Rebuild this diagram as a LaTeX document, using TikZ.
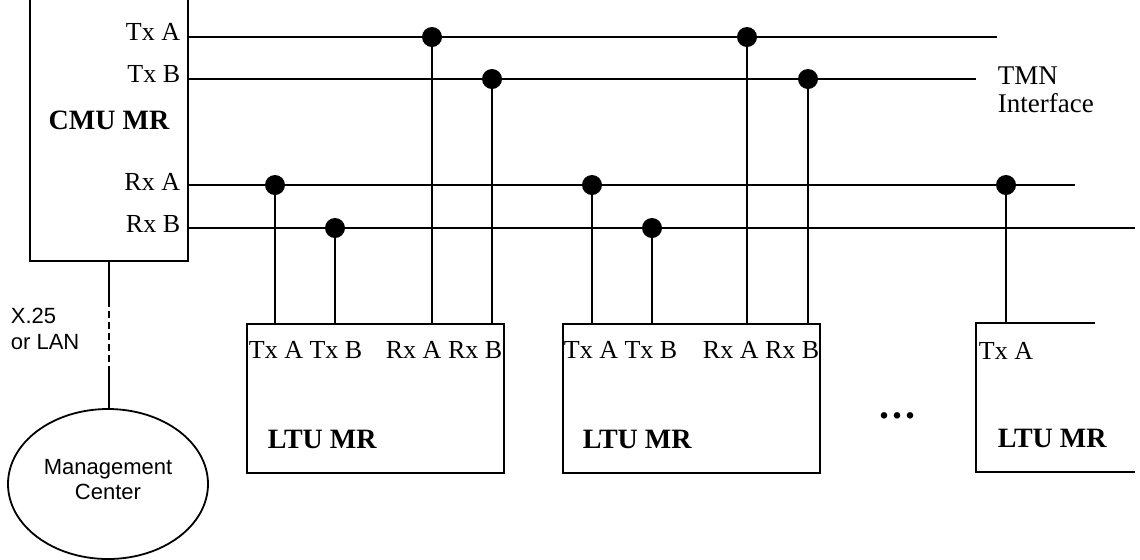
\documentclass[tikz,border=0pt]{standalone}
\usepackage{fontspec}
\setmainfont{Liberation Serif}
\setsansfont{Liberation Sans}
\usetikzlibrary{shapes}

\begin{document}
\begin{tikzpicture}[
    x=0.5pt, y=-0.5pt, line width=0.9pt,
    unit/.style={shape=rectangle, draw=black, anchor=north west, inner sep=0pt},
    ltu/.style={unit, minimum width=128.5pt, minimum height=74.5pt},
    tap/.style={shape=circle, fill=black, inner sep=0pt, minimum size=10pt},
    port/.style={inner sep=0pt, font=\fontsize{13}{15}\selectfont},
    title/.style={inner sep=0pt, font=\bfseries\fontsize{14}{16}\selectfont},
    note/.style={inner sep=0pt, align=left, font=\sffamily\fontsize{11}{13}\selectfont},
    mgmt/.style={shape=ellipse, draw=black, minimum width=100pt, minimum height=75pt, inner sep=0pt, text depth=5pt, align=center, font=\sffamily\fontsize{11}{12.5}\selectfont},
]
\useasboundingbox (0,0) rectangle (1140,559);

% units
\node[unit, minimum width=79pt, minimum height=132.5pt] (cmu) at (29,-5) {};
\node[ltu] (ltu1) at (246,323) {};
\node[ltu] (ltu2) at (562,323) {};
\coordinate (ltu3tr) at (1095,323);
\coordinate (ltu3tl) at (976,323);
\coordinate (ltu3bl) at (976,472);
\coordinate (ltu3br) at (1135,472);
\draw (ltu3tr) -- (ltu3tl) -- (ltu3bl) -- (ltu3br);
\node[mgmt] (mc) at (108,484) {Management\\Center};

% CMU texts
\node[port, anchor=base east] (cmutxa) at (181,40) {Tx A};
\node[port, anchor=base east] (cmutxb) at (181,82) {Tx B};
\node[port, anchor=base east] (cmurxa) at (181,190) {Rx A};
\node[port, anchor=base east] (cmurxb) at (181,232) {Rx B};
\node[title, anchor=base] (cmuname) at (109,129) {CMU MR};

% LTU texts
\node[port, anchor=base west] (l1tx) at (248,358) {Tx A Tx B};
\node[port, anchor=base west] (l1rx) at (385,358) {Rx A Rx B};
\node[title, anchor=base west] (l1name) at (267,448) {LTU MR};
\node[port, anchor=base west] (l2tx) at (563,358) {Tx A Tx B};
\node[port, anchor=base west] (l2rx) at (702,358) {Rx A Rx B};
\node[title, anchor=base west] (l2name) at (582,448) {LTU MR};
\node[port, anchor=base west] (l3tx) at (978,359) {Tx A};
\node[title, anchor=base west] (l3name) at (997,447) {LTU MR};
\node[title, anchor=base west, font=\bfseries\fontsize{20}{22}\selectfont] (more) at (879,418) {.\kern1.5pt.\kern1.5pt.};

% other labels
\node[port, anchor=north west, align=left, font=\fontsize{13.5}{14}\selectfont] (tmn) at (997,66) {TMN\\Interface};
\node[note, anchor=north west] (x25) at (10,307) {X.25\\or LAN};

% buses
\coordinate (txaend) at (997,37);
\coordinate (txbend) at (976,79);
\coordinate (rxaend) at (1075,185);
\coordinate (rxbend) at (1135,228);
\path[draw]
    (cmu.east |- txaend) edge (txaend)
    (cmu.east |- txbend) edge (txbend)
    (cmu.east |- rxaend) edge (rxaend)
    (cmu.east |- rxbend) edge (rxbend)
;

% taps
\node[tap] (txa1) at (432,37) {};
\node[tap] (txa2) at (747,37) {};
\node[tap] (txb1) at (492,79) {};
\node[tap] (txb2) at (808,79) {};
\node[tap] (rxa1) at (275,185) {};
\node[tap] (rxa2) at (592,185) {};
\node[tap] (rxa3) at (1006,185) {};
\node[tap] (rxb1) at (335,228) {};
\node[tap] (rxb2) at (652,228) {};

\path[draw]
    (txa1.center) edge (txa1 |- ltu1.north)
    (txb1.center) edge (txb1 |- ltu1.north)
    (rxa1.center) edge (rxa1 |- ltu1.north)
    (rxb1.center) edge (rxb1 |- ltu1.north)
    (txa2.center) edge (txa2 |- ltu2.north)
    (txb2.center) edge (txb2 |- ltu2.north)
    (rxa2.center) edge (rxa2 |- ltu2.north)
    (rxb2.center) edge (rxb2 |- ltu2.north)
    (rxa3.center) edge (rxa3 |- ltu3tl)
;

% link to management center
\coordinate (dashtop) at (108,300);
\coordinate (dashbot) at (108,367);
\draw (cmu.south) -- (cmu.south |- dashtop);
\draw[dash pattern=on 3.5pt off 2pt] (cmu.south |- dashtop) -- (cmu.south |- dashbot);
\draw (cmu.south |- dashbot) -- (mc.north -| cmu.south);
\end{tikzpicture}
\end{document}
